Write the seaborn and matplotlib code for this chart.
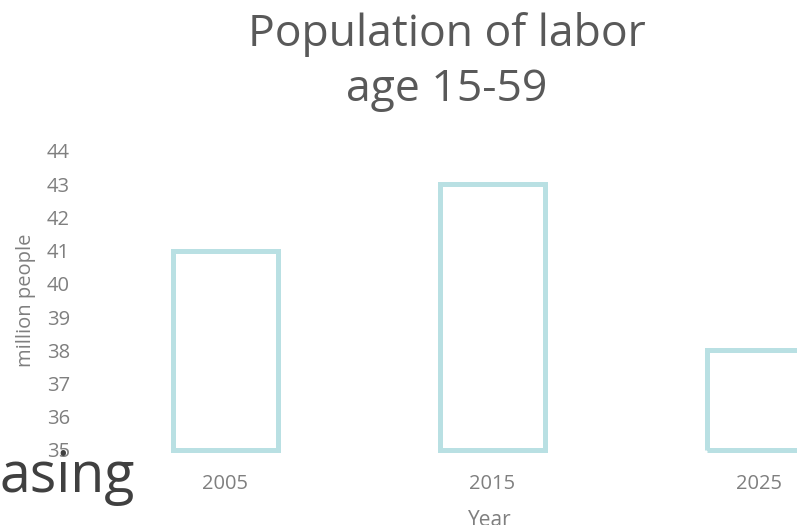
import matplotlib
matplotlib.use("Agg")
import matplotlib.pyplot as plt
import seaborn as sns
import pandas as pd

# data
years = ["2005", "2015", "2025"]
labor = [41, 43, 38]
y_ticks = list(range(35, 45))
base = 35

sns.set_theme(style="white")
plt.rcParams['font.family'] = ['Open Sans', 'DejaVu Sans']

df = pd.DataFrame({"Year": years, "million people": labor})

fig = plt.figure(figsize=(7.97, 5.25), dpi=100)
ax = fig.add_axes([0.1154, 0.1429, 1.005, 0.5695])

sns.barplot(data=df, x="Year", y="million people", ax=ax, width=0.39,
            facecolor="none", edgecolor="#b9e0e3", linewidth=3.6)

# bars start at the axis minimum, as in the original
for p, v in zip(ax.patches, labor):
    p.set_y(base)
    p.set_height(v - base)
    p.set_clip_on(False)

ax.set_ylim(35, 44)
ax.set_xlim(-0.5, 2.5)
ax.set_yticks(y_ticks)
ax.tick_params(axis="both", length=0, labelsize=14.5, labelcolor="#7f7f7f")
ax.tick_params(axis="y", pad=16)
ax.tick_params(axis="x", pad=17)
sns.despine(ax=ax, left=True, bottom=True, top=True, right=True)

ax.set_ylabel("million people", fontsize=14.5, color="#7f7f7f")
ax.yaxis.set_label_coords(-0.07, 0.5)
ax.set_xlabel("Year", fontsize=15, color="#7f7f7f")
ax.xaxis.set_label_coords(0.497, -0.2)

fig.text(0.561, 0.882, "Population of labor\nage 15-59", ha="center", va="center",
         fontsize=32, color="#595959", linespacing=1.3)

fig.text(0.0, 0.063, "asing", ha="left", va="baseline", fontsize=40, color="#404040")

fig.savefig("out.png", dpi=100)
